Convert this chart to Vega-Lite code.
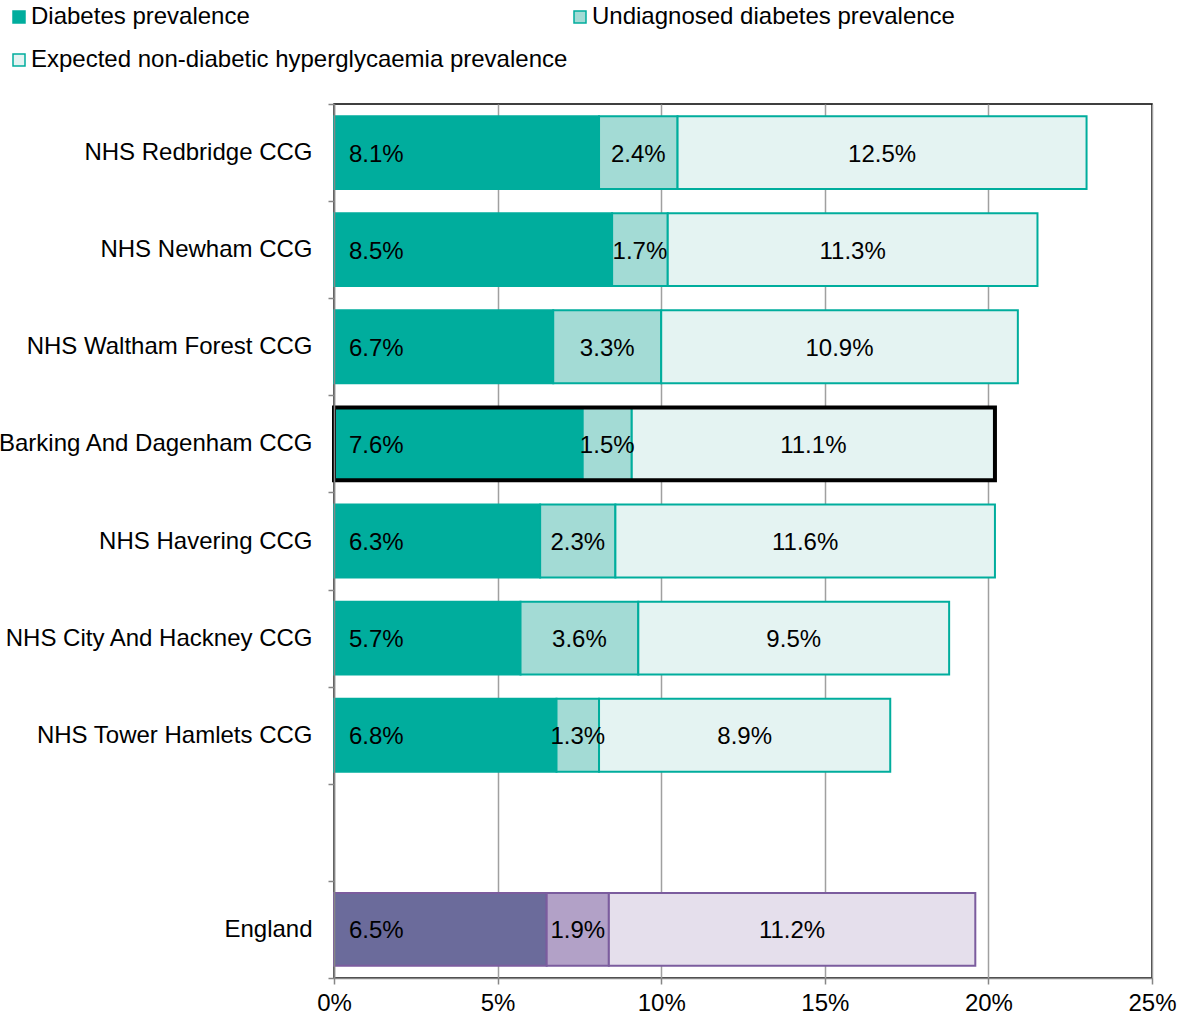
{
  "$schema": "https://vega.github.io/schema/vega-lite/v6.json",
  "autosize": {"type": "none"},
  "width": 818,
  "height": 874,
  "padding": {"left": 334, "top": 104, "right": 26, "bottom": 40},
  "background": "white",
  "config": {
    "font": "Liberation Sans",
    "view": {"stroke": "#000000", "strokeWidth": 1.5}
  },
  "data": {
    "values": [
      {"area": "NHS Redbridge CCG", "measure": "Diabetes prevalence", "part": 1, "value": 0.081},
      {"area": "NHS Redbridge CCG", "measure": "Undiagnosed diabetes prevalence", "part": 2, "value": 0.024},
      {"area": "NHS Redbridge CCG", "measure": "Expected non-diabetic hyperglycaemia prevalence", "part": 3, "value": 0.125},
      {"area": "NHS Newham CCG", "measure": "Diabetes prevalence", "part": 1, "value": 0.085},
      {"area": "NHS Newham CCG", "measure": "Undiagnosed diabetes prevalence", "part": 2, "value": 0.017},
      {"area": "NHS Newham CCG", "measure": "Expected non-diabetic hyperglycaemia prevalence", "part": 3, "value": 0.113},
      {"area": "NHS Waltham Forest CCG", "measure": "Diabetes prevalence", "part": 1, "value": 0.067},
      {"area": "NHS Waltham Forest CCG", "measure": "Undiagnosed diabetes prevalence", "part": 2, "value": 0.033},
      {"area": "NHS Waltham Forest CCG", "measure": "Expected non-diabetic hyperglycaemia prevalence", "part": 3, "value": 0.109},
      {"area": "Barking And Dagenham CCG", "measure": "Diabetes prevalence", "part": 1, "value": 0.076},
      {"area": "Barking And Dagenham CCG", "measure": "Undiagnosed diabetes prevalence", "part": 2, "value": 0.015},
      {"area": "Barking And Dagenham CCG", "measure": "Expected non-diabetic hyperglycaemia prevalence", "part": 3, "value": 0.111},
      {"area": "NHS Havering CCG", "measure": "Diabetes prevalence", "part": 1, "value": 0.063},
      {"area": "NHS Havering CCG", "measure": "Undiagnosed diabetes prevalence", "part": 2, "value": 0.023},
      {"area": "NHS Havering CCG", "measure": "Expected non-diabetic hyperglycaemia prevalence", "part": 3, "value": 0.116},
      {"area": "NHS City And Hackney CCG", "measure": "Diabetes prevalence", "part": 1, "value": 0.057},
      {"area": "NHS City And Hackney CCG", "measure": "Undiagnosed diabetes prevalence", "part": 2, "value": 0.036},
      {"area": "NHS City And Hackney CCG", "measure": "Expected non-diabetic hyperglycaemia prevalence", "part": 3, "value": 0.095},
      {"area": "NHS Tower Hamlets CCG", "measure": "Diabetes prevalence", "part": 1, "value": 0.068},
      {"area": "NHS Tower Hamlets CCG", "measure": "Undiagnosed diabetes prevalence", "part": 2, "value": 0.013},
      {"area": "NHS Tower Hamlets CCG", "measure": "Expected non-diabetic hyperglycaemia prevalence", "part": 3, "value": 0.089},
      {"area": "England", "measure": "England diabetes prevalence", "part": 1, "value": 0.065},
      {"area": "England", "measure": "England undiagnosed diabetes prevalence", "part": 2, "value": 0.019},
      {"area": "England", "measure": "England expected non-diabetic hyperglycaemia prevalence", "part": 3, "value": 0.112}
    ]
  },
  "transform": [
    {"stack": "value", "groupby": ["area"], "sort": [{"field": "part", "order": "ascending"}], "as": ["x0", "x1"]},
    {"calculate": "(datum.x0 + datum.x1) / 2", "as": "mid"}
  ],
  "encoding": {
    "y": {
      "field": "area",
      "type": "nominal",
      "scale": {
        "domain": ["NHS Redbridge CCG", "NHS Newham CCG", "NHS Waltham Forest CCG", "Barking And Dagenham CCG", "NHS Havering CCG", "NHS City And Hackney CCG", "NHS Tower Hamlets CCG", " ", "England"],
        "paddingInner": 0,
        "paddingOuter": 0
      },
      "axis": {
        "title": null,
        "labelFontSize": 24,
        "labelColor": "#000000",
        "labelPadding": 16,
        "tickSize": 6,
        "tickBand": "extent",
        "tickColor": "#868686",
        "tickWidth": 1.5,
        "domainColor": "#868686",
        "domainWidth": 1.5,
        "grid": false,
        "zindex": 1,
        "labelLimit": 500
      }
    }
  },
  "layer": [
    {
      "mark": {"type": "bar", "height": {"band": 0.75}, "strokeWidth": 2},
      "encoding": {
        "x": {
          "field": "x0",
          "type": "quantitative",
          "scale": {"domain": [0, 0.25], "nice": false},
          "axis": {
            "title": null,
            "format": ".0%",
            "values": [0, 0.05, 0.1, 0.15, 0.2, 0.25],
            "grid": true,
            "gridColor": "#a0a0a0",
            "gridWidth": 1.5,
            "tickSize": 6,
            "tickColor": "#868686",
            "tickWidth": 1.5,
            "domainColor": "#868686",
            "domainWidth": 1.5,
            "labelFontSize": 24,
            "labelColor": "#000000",
            "labelPadding": 7,
            "labelFlush": false
          }
        },
        "x2": {"field": "x1"},
        "fill": {
          "field": "measure",
          "type": "nominal",
          "scale": {
            "domain": ["Diabetes prevalence", "Undiagnosed diabetes prevalence", "Expected non-diabetic hyperglycaemia prevalence", "England diabetes prevalence", "England undiagnosed diabetes prevalence", "England expected non-diabetic hyperglycaemia prevalence"],
            "range": ["#00ad9d", "#a3dbd5", "#e4f3f2", "#6b6b9b", "#b2a1c7", "#e5dfec"]
          },
          "legend": {
            "values": ["Diabetes prevalence", "Undiagnosed diabetes prevalence", "Expected non-diabetic hyperglycaemia prevalence"],
            "title": null,
            "orient": "none",
            "legendX": -327,
            "legendY": -99,
            "direction": "horizontal",
            "columns": 2,
            "gridAlign": "each",
            "columnPadding": -1,
            "rowPadding": 19,
            "padding": 0,
            "symbolType": "square",
            "symbolSize": 144,
            "symbolStrokeColor": "#00ad9d",
            "symbolStrokeWidth": 1.5,
            "labelFontSize": 24,
            "labelColor": "#000000",
            "labelOffset": 0,
            "labelLimit": 700
          }
        },
        "stroke": {
          "field": "measure",
          "type": "nominal",
          "scale": {
            "domain": ["Diabetes prevalence", "Undiagnosed diabetes prevalence", "Expected non-diabetic hyperglycaemia prevalence", "England diabetes prevalence", "England undiagnosed diabetes prevalence", "England expected non-diabetic hyperglycaemia prevalence"],
            "range": ["#00ad9d", "#00ad9d", "#00ad9d", "#7b5c9e", "#7b5c9e", "#7b5c9e"]
          },
          "legend": null
        }
      }
    },
    {
      "transform": [{"filter": "datum.part == 1"}],
      "mark": {"type": "text", "align": "left", "dx": 15, "dy": 2, "fontSize": 24, "color": "#000000", "baseline": "middle"},
      "encoding": {
        "x": {"field": "x0", "type": "quantitative"},
        "text": {"field": "value", "type": "quantitative", "format": ".1%"}
      }
    },
    {
      "transform": [{"filter": "datum.part > 1"}],
      "mark": {"type": "text", "align": "center", "dy": 2, "fontSize": 24, "color": "#000000", "baseline": "middle"},
      "encoding": {
        "x": {"field": "mid", "type": "quantitative"},
        "text": {"field": "value", "type": "quantitative", "format": ".1%"}
      }
    },
    {
      "transform": [{"filter": "datum.area == 'Barking And Dagenham CCG'"}],
      "mark": {"type": "bar", "height": {"band": 0.75}, "filled": false, "stroke": "#000000", "strokeWidth": 4},
      "encoding": {
        "x": {"aggregate": "min", "field": "x0", "type": "quantitative"},
        "x2": {"aggregate": "max", "field": "x1"}
      }
    }
  ]
}
